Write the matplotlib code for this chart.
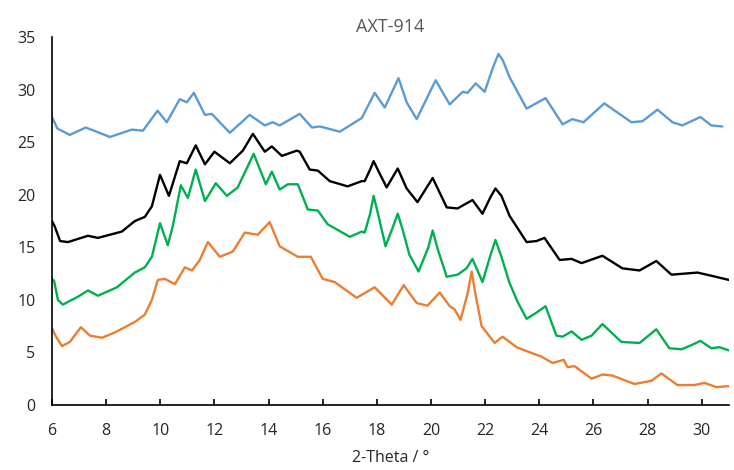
import matplotlib as mpl
from matplotlib import pyplot as plt

mpl.rcParams['font.family'] = ['Open Sans', 'DejaVu Sans']

blue_x = [6.0, 6.2, 6.66, 7.25, 8.14, 8.95, 9.36, 9.9, 10.24, 10.72, 10.98, 11.24, 11.65, 11.9,
          12.57, 13.3, 13.86, 14.15, 14.41, 15.15, 15.6, 15.9, 16.63, 17.44, 17.92, 18.29, 18.8,
          19.1, 19.47, 20.17, 20.69, 21.17, 21.35, 21.65, 21.98, 22.3, 22.49, 22.65, 22.9, 23.53,
          24.23, 24.86, 25.22, 25.63, 26.4, 27.4, 27.81, 28.36, 28.92, 29.28, 29.95, 30.35, 30.76]
blue_y = [27.4, 26.3, 25.7, 26.4, 25.5, 26.2, 26.1, 28.0, 26.9, 29.1, 28.8, 29.7, 27.6, 27.7,
          25.9, 27.6, 26.6, 26.9, 26.6, 27.7, 26.4, 26.5, 26.0, 27.3, 29.7, 28.3, 31.1,
          28.8, 27.2, 30.9, 28.6, 29.8, 29.7, 30.6, 29.8, 32.2, 33.4, 32.8, 31.2, 28.2,
          29.2, 26.7, 27.2, 26.9, 28.7, 26.9, 27.0, 28.1, 26.9, 26.6, 27.4, 26.6, 26.5]

black_x = [6.0, 6.1, 6.3, 6.59, 7.33, 7.7, 8.58, 9.06, 9.43, 9.69, 9.99, 10.32, 10.72, 10.98,
           11.31, 11.65, 12.0, 12.57, 13.05, 13.42, 13.86, 14.12, 14.49, 15.04, 15.15, 15.52,
           15.82, 16.26, 16.92, 17.44, 17.55, 17.75, 17.88, 18.05, 18.36, 18.77, 19.1, 19.5,
           20.06, 20.58, 20.98, 21.53, 21.9, 22.2, 22.38, 22.6, 22.9, 23.53, 23.9, 24.19, 24.75,
           25.19, 25.56, 26.33, 27.07, 27.7, 28.32, 28.88, 29.36, 29.84, 30.35, 31.0]
black_y = [17.5, 17.0, 15.6, 15.5, 16.1, 15.9, 16.5, 17.5, 17.9, 18.9, 21.9, 19.9, 23.2, 23.0,
           24.7, 22.9, 24.1, 23.0, 24.2, 25.8, 24.1, 24.6, 23.7, 24.2, 24.1, 22.4,
           22.3, 21.3, 20.8, 21.3, 21.3, 22.4, 23.2, 22.3, 20.7, 22.5, 20.6, 19.3,
           21.6, 18.8, 18.7, 19.5, 18.2, 19.8, 20.6, 19.9, 18.0, 15.5, 15.6, 15.9, 13.8,
           13.9, 13.5, 14.2, 13.0, 12.8, 13.7, 12.4, 12.5, 12.6, 12.3, 11.9]

green_x = [6.0, 6.08, 6.22, 6.4, 6.96, 7.33, 7.7, 8.4, 9.06, 9.43, 9.69, 9.99, 10.28, 10.46,
           10.76, 11.02, 11.31, 11.65, 12.05, 12.46, 12.86, 13.45, 13.9, 14.12, 14.41, 14.71,
           15.08, 15.45, 15.82, 16.18, 17.0, 17.44, 17.55, 17.75, 17.88, 18.05, 18.32, 18.6,
           18.77, 18.95, 19.2, 19.54, 19.9, 20.06, 20.25, 20.58, 20.98, 21.31, 21.53, 21.9,
           22.2, 22.38, 22.6, 22.9, 23.2, 23.53, 23.9, 24.23, 24.63, 24.86, 25.19, 25.56, 25.93,
           26.33, 27.03, 27.7, 28.32, 28.8, 29.25, 29.62, 29.95, 30.35, 30.65, 31.0]
green_y = [12.0, 11.8, 10.0, 9.55, 10.3, 10.9, 10.4, 11.2, 12.6, 13.1, 14.1, 17.3, 15.2, 17.0,
           20.9, 19.7, 22.4, 19.4, 21.1, 19.9, 20.7, 23.9, 21.0, 22.2, 20.5, 21.0,
           21.0, 18.6, 18.5, 17.2, 16.0, 16.5, 16.4, 18.2, 19.9, 18.1, 15.1, 17.0,
           18.2, 16.7, 14.3, 12.7, 15.0, 16.6, 14.8, 12.2, 12.4, 13.0, 13.9, 11.7,
           14.3, 15.7, 14.1, 11.6, 9.8, 8.2, 8.8, 9.4, 6.6, 6.5, 7.0, 6.2, 6.6,
           7.7, 6.0, 5.9, 7.2, 5.4, 5.3, 5.7, 6.1, 5.4, 5.5, 5.2]

orange_x = [6.0, 6.15, 6.37, 6.66, 7.07, 7.4, 7.85, 8.32, 8.69, 9.06, 9.43, 9.69, 9.91, 10.17,
            10.54, 10.91, 11.17, 11.46, 11.76, 12.2, 12.68, 13.12, 13.6, 14.04, 14.41, 15.08,
            15.56, 16.0, 16.44, 17.25, 17.92, 18.55, 18.99, 19.47, 19.87, 20.32, 20.69, 20.87,
            21.09, 21.35, 21.5, 21.65, 21.87, 22.35, 22.64, 23.16, 23.56, 24.08, 24.49, 24.9,
            25.04, 25.3, 25.93, 26.33, 26.7, 27.51, 28.14, 28.51, 29.1, 29.73, 30.1, 30.54, 31.0]
orange_y = [7.3, 6.5, 5.6, 6.0, 7.4, 6.6, 6.4, 6.9, 7.4, 7.9, 8.6, 10.0, 11.9, 12.0,
            11.5, 13.1, 12.8, 13.8, 15.5, 14.1, 14.6, 16.4, 16.2, 17.4, 15.1, 14.1,
            14.1, 12.0, 11.7, 10.2, 11.2, 9.55, 11.4, 9.7, 9.45, 10.7, 9.4, 9.1,
            8.1, 10.6, 12.7, 10.4, 7.5, 5.9, 6.5, 5.5, 5.1, 4.6, 4.0, 4.3,
            3.6, 3.7, 2.5, 2.9, 2.8, 2.0, 2.3, 3.0, 1.9, 1.9, 2.1, 1.7, 1.8]

x_ticks = [6, 8, 10, 12, 14, 16, 18, 20, 22, 24, 26, 28, 30]
y_ticks = [0, 5, 10, 15, 20, 25, 30, 35]

fig = plt.figure(figsize=(7.34, 4.70), dpi=100)
ax = fig.add_axes([0.0708, 0.1383, 0.9222, 0.7827])

series = [(blue_x, blue_y, '#5B9BD5'),
          (black_x, black_y, '#000000'),
          (green_x, green_y, '#00B050'),
          (orange_x, orange_y, '#ED7D31')]
for xs, ys, c in series:
    ax.plot(xs, ys, color=c, lw=1.7, solid_joinstyle='round', solid_capstyle='round')

ax.set_xlim(6, 31)
ax.set_ylim(0, 35)
ax.set_xticks(x_ticks)
ax.set_yticks(y_ticks)

for side in ['top', 'right']:
    ax.spines[side].set_visible(False)
for side in ['left', 'bottom']:
    ax.spines[side].set_linewidth(1.2)
    ax.spines[side].set_color('black')

ax.tick_params(axis='x', direction='in', length=4, width=1.2, pad=13, labelsize=11.5,
               labelcolor='#262626')
ax.tick_params(axis='y', length=0, pad=12, labelsize=11.5, labelcolor='#262626')

ax.set_title('AXT-914', color='#595959', fontsize=13, pad=4)
ax.set_xlabel('2-Theta / \u00b0', fontsize=11.5, color='#262626', labelpad=8)

fig.savefig('out.png', dpi=100)
